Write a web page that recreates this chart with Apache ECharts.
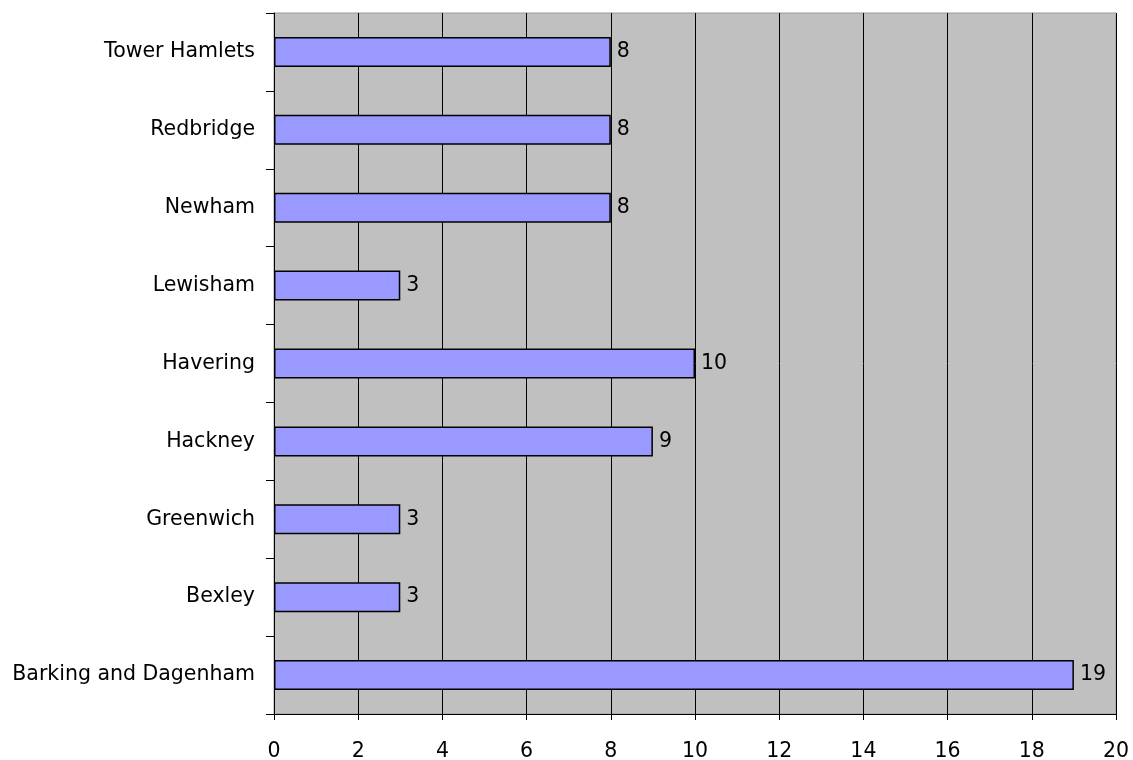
<!DOCTYPE html>
<html><head><meta charset="utf-8">
<script src="https://cdn.jsdelivr.net/npm/echarts@6/dist/echarts.min.js"></script>
<style>html,body{margin:0;padding:0;background:#fff}#c{width:1133px;height:760px}</style>
</head><body><div id="c"></div>
<script>
const categories = ["Barking and Dagenham","Bexley","Greenwich","Hackney","Havering","Lewisham","Newham","Redbridge","Tower Hamlets"];
const values = [19,3,3,9,10,3,8,8,8];
const FONT = "DejaVu Sans";
const chart = echarts.init(document.getElementById('c'));
chart.setOption({
  animation:false,
  grid:{left:274,right:17,top:13,bottom:46,containLabel:false,outerBoundsMode:'none',show:true,backgroundColor:'#C0C0C0',borderColor:'#999',borderWidth:1},
  xAxis:{type:'value',min:0,max:20,interval:2,
    axisLine:{show:true,lineStyle:{color:'#000',width:1}},
    axisTick:{show:true,length:6,lineStyle:{color:'#000'}},
    axisLabel:{color:'#000',fontFamily:FONT,fontSize:20.5,margin:27},
    splitLine:{show:true,lineStyle:{color:'#000',width:1}}},
  yAxis:{type:'category',data:categories,
    axisLine:{show:true,lineStyle:{color:'#000'}},
    axisTick:{show:true,length:8,inside:false,lineStyle:{color:'#000'}},
    axisLabel:{color:'#000',fontFamily:FONT,fontSize:20.5,margin:19},
    splitLine:{show:false}},
  series:[{type:'bar',data:values,barWidth:30,
    itemStyle:{color:'#9999FF',borderColor:'#000',borderWidth:1.5},
    label:{show:true,position:'right',distance:6,color:'#000',fontFamily:FONT,fontSize:20.5}}]
});
</script></body></html>
